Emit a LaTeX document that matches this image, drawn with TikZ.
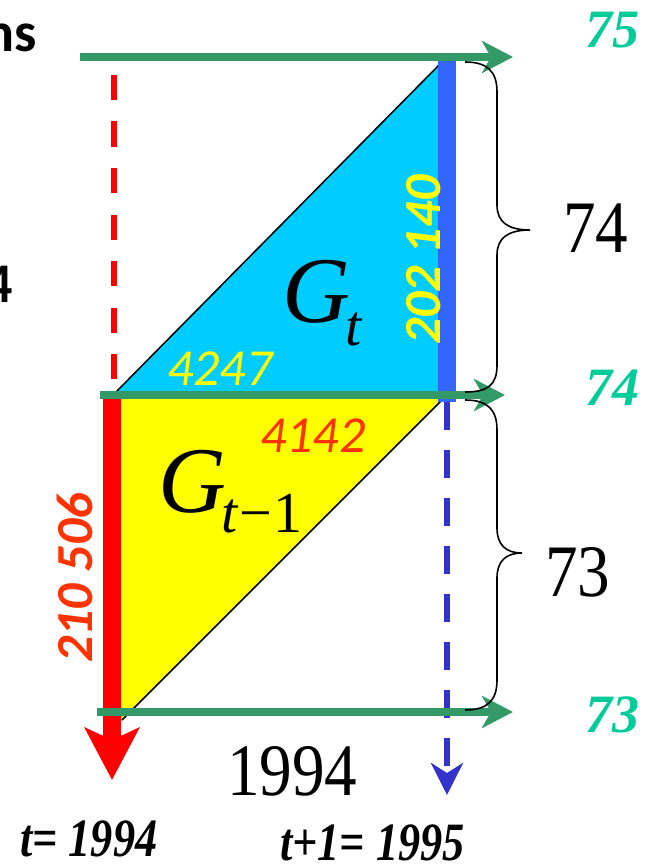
\documentclass[tikz,border=0pt]{standalone}
\usepackage{fontspec}
\setmainfont{Liberation Serif}
\newfontfamily\calfont{Carlito}
\newfontfamily\narrowserif[FakeStretch=0.88]{Liberation Serif}
\newfontfamily\yearserif[FakeStretch=0.82]{Liberation Serif}
\usetikzlibrary{arrows.meta,calc}
\definecolor{axisGreen}{HTML}{339966}
\definecolor{ageTeal}{HTML}{00CC99}
\definecolor{fillCyan}{HTML}{00CCFF}
\definecolor{fillYellow}{HTML}{FFFF00}
\definecolor{lineBlue}{HTML}{3366FF}
\definecolor{dashBlue}{HTML}{3333CC}
\definecolor{numRed}{HTML}{FF3300}

\begin{document}
\begin{tikzpicture}[
    x=1pt, y=-1pt,
    axis/.style = {draw=axisGreen, line width=8pt, -{Stealth[length=31pt,width=32pt,inset=9pt]}},
    agebrace/.style = {draw=black, line width=1.6pt},
    cohort/.style = {inner sep=0pt, anchor=base west, font=\calfont\itshape\fontsize{52}{52}\selectfont},
    stock/.style = {inner sep=0pt, rotate=90, anchor=base, font=\calfont\bfseries\itshape\fontsize{52}{52}\selectfont},
    agelab/.style = {inner sep=0pt, anchor=base west, text=ageTeal, font=\bfseries\itshape\fontsize{54}{54}\selectfont},
    bignum/.style = {inner sep=0pt, anchor=base west, font=\narrowserif\fontsize{74}{74}\selectfont},
    yearlab/.style = {inner sep=0pt, anchor=base west, font=\yearserif\bfseries\itshape\fontsize{54}{54}\selectfont},
    edgelab/.style = {inner sep=0pt, anchor=base east, font=\calfont\bfseries\fontsize{56}{56}\selectfont},
    glabel/.style = {inner sep=0pt, anchor=base west, font=\itshape\fontsize{94}{94}\selectfont}
  ]
\useasboundingbox (0,0) rectangle (657,864);

\coordinate (a75w) at (80,57);
\coordinate (a75e) at (513,57);
\coordinate (a74w) at (100,395);
\coordinate (a74e) at (505,395);
\coordinate (a73w) at (97,712);
\coordinate (a73e) at (513,712);
\coordinate (redtop) at (114,75);
\coordinate (redbot) at (114,380);
\coordinate (deathw) at (112,395);
\coordinate (deathtip) at (112,780);
\coordinate (bluetop) at (447,57);
\coordinate (bluebot) at (447,402);
\coordinate (bluetip) at (447,795);

\fill[fillCyan] (113,395) -- (447,57) -- (447,395) -- cycle;
\fill[fillYellow] (113,395) -- (447,395) -- (113,729) -- cycle;
\draw[line width=1.5pt] (113,395) -- (441,63);
\draw[line width=1.5pt] (445,397) -- (122,720);

\draw[red, line width=6pt, dash pattern=on 25pt off 21.5pt] (redtop) -- (redbot);
\draw[dashBlue, line width=6pt, dash pattern=on 28pt off 20pt, -{Stealth[length=32pt,width=32pt,inset=10pt]}] (bluebot) -- (bluetip);
\draw[lineBlue, line width=18pt] (bluetop) -- (bluebot);
\draw[red, line width=18pt, -{Stealth[length=52pt,width=54pt,inset=12pt]}] (deathw) -- (deathtip);

\draw[axis] (a75w) -- (a75e);
\draw[axis] (a74w) -- (a74e);
\draw[axis] (a73w) -- (a73e);

\draw[agebrace] (465,62) .. controls (488,62) and (497,72) .. (497,92) -- (497,205)
  .. controls (497,222) and (508,230) .. (530,230)
  .. controls (508,230) and (497,238) .. (497,255) -- (497,365)
  .. controls (497,385) and (488,392) .. (465,392);
\draw[agebrace] (465,400) .. controls (488,400) and (497,410) .. (497,430) -- (497,528)
  .. controls (497,545) and (506,553) .. (522,553)
  .. controls (506,553) and (497,561) .. (497,578) -- (497,680)
  .. controls (497,700) and (488,710) .. (465,710);

\node[glabel] (gt) at (282,322) {G\kern-5pt\raisebox{-23pt}{\fontsize{58}{58}\selectfont t}};
\node[glabel] (gtm) at (158,512) {G\kern-5pt\raisebox{-20pt}{\fontsize{58}{58}\selectfont t\kern2pt\upshape −\kern2pt1}};

\node[cohort, text=fillYellow] (newborn) at (167,385) {4247};
\node[cohort, text=numRed] (deaths) at (260,452) {4142};
\node[stock, text=fillYellow] (pop95) at (440,260) {202 140};
\node[stock, text=numRed] (pop94) at (92,578) {210 506};

\node[bignum] (span74) at (563,252) {74};
\node[bignum] (span73) at (545,596) {73};
\node[bignum] (yr) at (227,795) {1994};

\node[agelab] (age75) at (585,48) {75};
\node[agelab] (age74) at (585,405) {74};
\node[agelab] (age73) at (585,732) {73};

\node[yearlab] (tnow) at (20,856) {t= 1994};
\node[yearlab] (tnext) at (280,860) {t+1= 1995};

\node[edgelab] (cutns) at (37,52) {ns};
\node[edgelab] (cut4) at (13,302) {4};
\end{tikzpicture}
\end{document}
